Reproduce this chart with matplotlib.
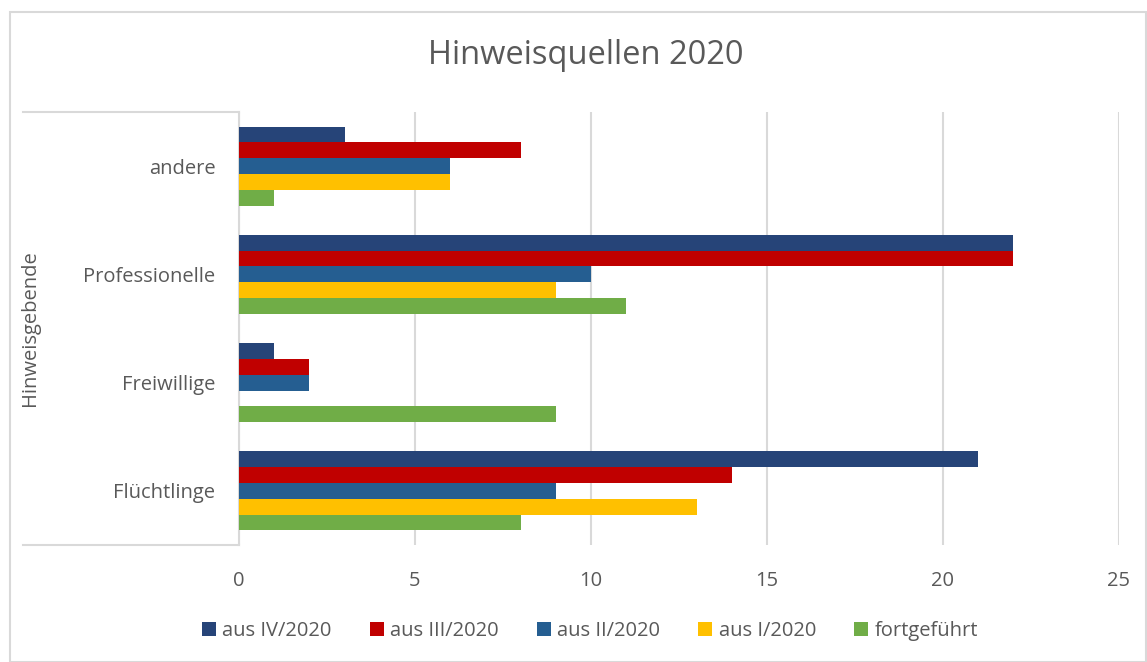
import numpy as np
import matplotlib.pyplot as plt
from matplotlib.lines import Line2D
from matplotlib.patches import Rectangle

plt.rcParams['font.family'] = ['Open Sans', 'DejaVu Sans']

categories = ['Flüchtlinge', 'Freiwillige', 'Professionelle', 'andere']
series = ['aus IV/2020', 'aus III/2020', 'aus II/2020', 'aus I/2020', 'fortgeführt']
aus_iv = [21, 1, 22, 3]
aus_iii = [14, 2, 22, 8]
aus_ii = [9, 2, 10, 6]
aus_i = [13, 0, 9, 6]
fortgefuehrt = [8, 9, 11, 1]
colors = ['#264478', '#C00000', '#255E91', '#FFC000', '#70AD47']
xticks = [0, 5, 10, 15, 20, 25]

text_col = '#595959'
grid_col = '#D9D9D9'

fig = plt.figure(figsize=(11.47, 6.62), dpi=100)
W, H = 1147, 662
# plot area in pixels: x 239..1119, y 112..545
ax = fig.add_axes([239 / W, 1 - 545 / H, 880 / W, 433 / H])

values = [aus_iv, aus_iii, aus_ii, aus_i, fortgefuehrt]
y = np.arange(len(categories))
h = 0.146
for i, (vals, name, c) in enumerate(zip(values, series, colors)):
    offs = (2 - i) * h
    ax.barh(y + offs, vals, height=h, color=c, label=name, zorder=3)

ax.set_xlim(0, 25)
ax.set_ylim(-0.5, 3.5)
ax.set_xticks(xticks)
ax.set_xticklabels([str(t) for t in xticks])
ax.set_yticks(y)
ax.set_yticklabels(categories)
ax.tick_params(axis='both', length=0, labelsize=14.5, colors=text_col)
ax.tick_params(axis='x', pad=19)
ax.tick_params(axis='y', pad=17)
ax.xaxis.grid(True, color=grid_col, linewidth=1.5, zorder=0)
for s in ['top', 'right', 'bottom']:
    ax.spines[s].set_visible(False)
ax.spines['left'].set_color(grid_col)
ax.spines['left'].set_linewidth(1.5)

# category box lines
x0 = (23 - 239) / 880
for yy in (0, 1):
    ax.add_line(Line2D([x0, 0], [yy, yy], transform=ax.transAxes, color=grid_col,
                       linewidth=1.5, clip_on=False))

ax.set_ylabel('Hinweisgebende', fontsize=14.5, color=text_col)
ax.yaxis.set_label_coords((40 - 239) / 880, 0.5)

fig.text(586 / W, 1 - 56 / H, 'Hinweisquellen 2020', fontsize=23.5, color=text_col,
         ha='center', va='center')

fig.legend(loc='center', bbox_to_anchor=(590 / W, 1 - 631 / H), ncol=5, frameon=False,
           fontsize=14.5, handlelength=0.7, handleheight=0.7, handletextpad=0.3,
           columnspacing=1.9, labelcolor=text_col)

# outer frame
fig.patches.append(Rectangle((10 / W, 0), 1 - 11 / W, 1 - 12 / H, transform=fig.transFigure,
                             fill=False, edgecolor=grid_col, linewidth=1.5))

fig.savefig('out.png', dpi=100)
